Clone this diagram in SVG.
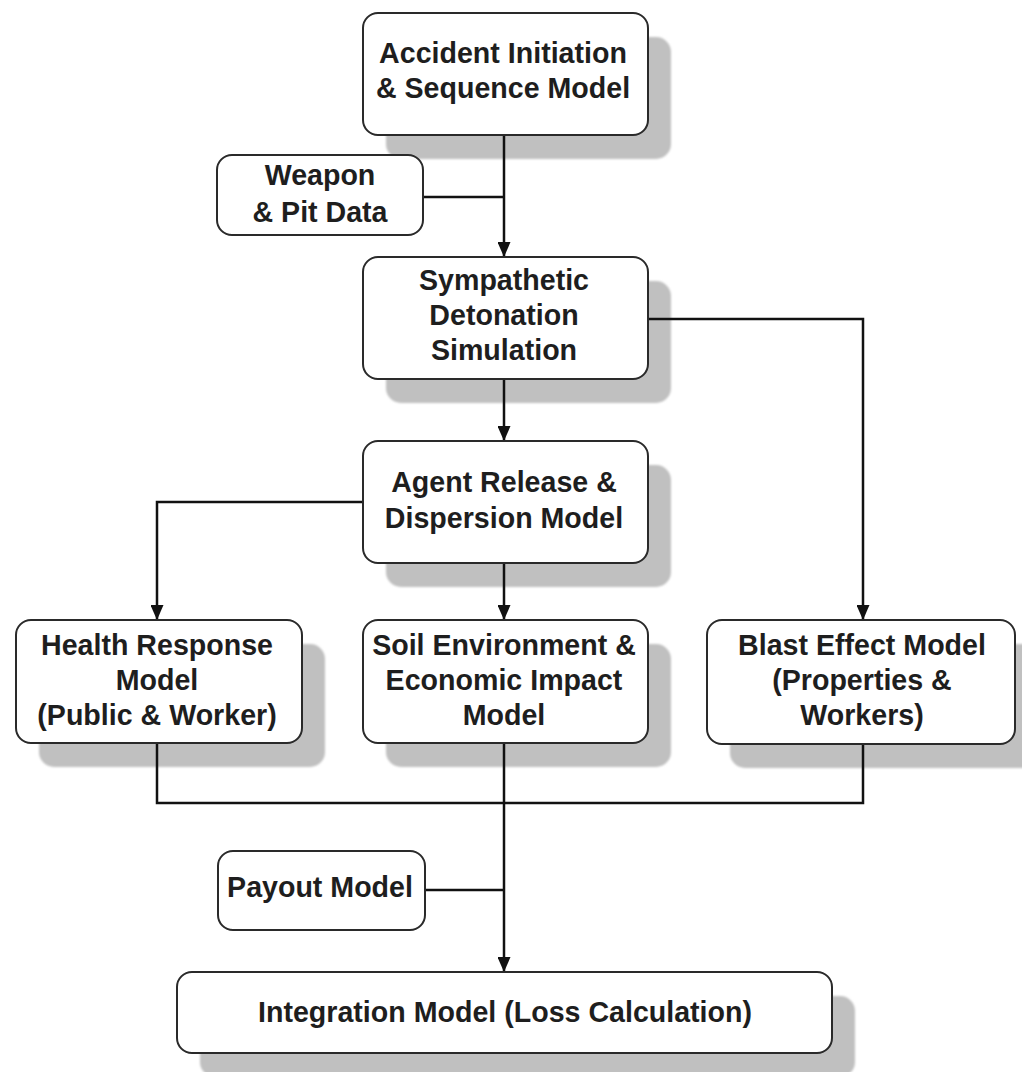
<svg xmlns="http://www.w3.org/2000/svg" width="1022" height="1072" viewBox="0 0 1022 1072">
  <style>
    .box { fill: #ffffff; stroke: #2a2a2a; stroke-width: 2; }
    .shadow { fill: #c0c0c0; filter: url(#soft); }
    .label { font-family: "Liberation Sans", Arial, sans-serif; font-weight: bold; font-size: 28.6px; fill: #1e1e1e; text-anchor: middle; }
    .wire { fill: none; stroke: #111111; stroke-width: 2.5; }
  </style>
  <defs>
    <filter id="soft" x="-5%" y="-5%" width="110%" height="110%">
      <feGaussianBlur stdDeviation="1"/>
    </filter>
    <marker id="arrow" markerUnits="userSpaceOnUse" markerWidth="15" markerHeight="13" viewBox="0 0 15 13" refX="15" refY="6.5" orient="auto">
      <path d="M0,0 L15,6.5 L0,13 z" fill="#111111"/>
    </marker>
  </defs>

  <rect width="1022" height="1072" fill="#ffffff"/>

  <!-- drop shadows -->
  <g id="shadows">
    <rect class="shadow" x="386" y="37" width="285" height="122" rx="15"/>
    <rect class="shadow" x="386" y="281" width="285" height="122" rx="15"/>
    <rect class="shadow" x="386" y="465" width="285" height="122" rx="15"/>
    <rect class="shadow" x="39" y="644" width="286" height="123" rx="15"/>
    <rect class="shadow" x="386" y="644" width="285" height="123" rx="15"/>
    <rect class="shadow" x="730" y="644" width="308" height="124" rx="15"/>
    <rect class="shadow" x="200" y="996" width="655" height="81" rx="15"/>
  </g>

  <!-- connectors -->
  <g id="connectors">
    <path class="wire" d="M504,135 V257" marker-end="url(#arrow)"/>
    <path class="wire" d="M423,197 H504"/>
    <path class="wire" d="M504,379 V441" marker-end="url(#arrow)"/>
    <path class="wire" d="M648,319 H863 V620" marker-end="url(#arrow)"/>
    <path class="wire" d="M363,502 H157 V620" marker-end="url(#arrow)"/>
    <path class="wire" d="M504,563 V620" marker-end="url(#arrow)"/>
    <path class="wire" d="M157,743 V803 H863 V744"/>
    <path class="wire" d="M504,743 V972" marker-end="url(#arrow)"/>
    <path class="wire" d="M425,890 H504"/>
  </g>

  <g id="accident-initiation">
    <rect class="box" x="363" y="13" width="285" height="122" rx="15"/>
    <text class="label" x="503" y="63">Accident Initiation</text>
    <text class="label" x="503" y="98">&amp; Sequence Model</text>
  </g>

  <g id="weapon-pit-data">
    <rect class="box" x="217" y="155" width="206" height="80" rx="15"/>
    <text class="label" x="320" y="185">Weapon</text>
    <text class="label" x="320" y="222">&amp; Pit Data</text>
  </g>

  <g id="sympathetic-detonation">
    <rect class="box" x="363" y="257" width="285" height="122" rx="15"/>
    <text class="label" x="504" y="290">Sympathetic</text>
    <text class="label" x="504" y="325">Detonation</text>
    <text class="label" x="504" y="360">Simulation</text>
  </g>

  <g id="agent-release">
    <rect class="box" x="363" y="441" width="285" height="122" rx="15"/>
    <text class="label" x="504" y="492">Agent Release &amp;</text>
    <text class="label" x="504" y="528">Dispersion Model</text>
  </g>

  <g id="health-response">
    <rect class="box" x="16" y="620" width="286" height="123" rx="15"/>
    <text class="label" x="157" y="655">Health Response</text>
    <text class="label" x="157" y="690">Model</text>
    <text class="label" x="157" y="725">(Public &amp; Worker)</text>
  </g>

  <g id="soil-environment">
    <rect class="box" x="363" y="620" width="285" height="123" rx="15"/>
    <text class="label" x="504" y="655">Soil Environment &amp;</text>
    <text class="label" x="504" y="690">Economic Impact</text>
    <text class="label" x="504" y="725">Model</text>
  </g>

  <g id="blast-effect">
    <rect class="box" x="707" y="620" width="308" height="124" rx="15"/>
    <text class="label" x="862" y="655">Blast Effect Model</text>
    <text class="label" x="862" y="690">(Properties &amp;</text>
    <text class="label" x="862" y="725">Workers)</text>
  </g>

  <g id="payout-model">
    <rect class="box" x="218" y="851" width="207" height="79" rx="15"/>
    <text class="label" x="320" y="897">Payout Model</text>
  </g>

  <g id="integration-model">
    <rect class="box" x="177" y="972" width="655" height="81" rx="15"/>
    <text class="label" x="505" y="1022">Integration Model (Loss Calculation)</text>
  </g>
</svg>
